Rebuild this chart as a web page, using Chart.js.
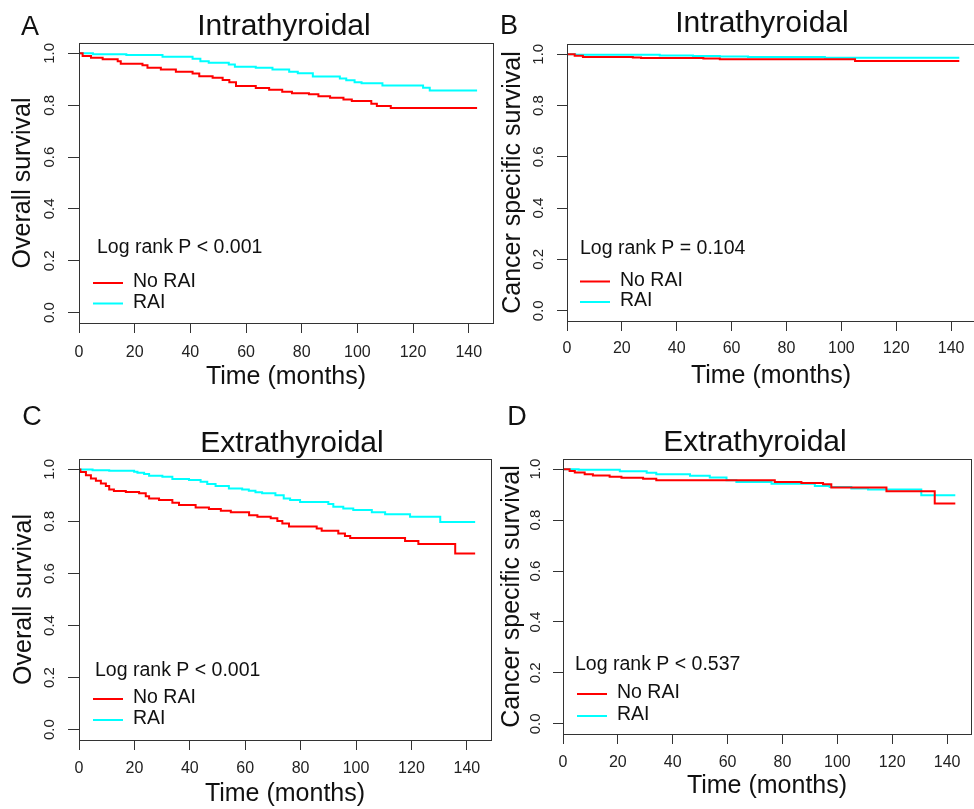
<!DOCTYPE html>
<html>
<head>
<meta charset="utf-8">
<script src="https://cdn.jsdelivr.net/npm/chart.js@4.4.1/dist/chart.umd.min.js"></script>
<style>
  html, body { margin: 0; padding: 0; background: #fff; overflow: hidden; }
  #page { position: relative; width: 974px; height: 809px; overflow: hidden; background: #fff; }
  canvas { position: absolute; }
</style>
</head>
<body>
<div id="page">
  <canvas id="panelA" width="495" height="392" style="left:0;top:0"></canvas>
  <canvas id="panelB" width="490" height="392" style="left:490px;top:0"></canvas>
  <canvas id="panelC" width="493" height="409" style="left:0;top:400px"></canvas>
  <canvas id="panelD" width="484" height="401" style="left:490px;top:400px"></canvas>
</div>
<script>
// axis ticks
const xTicks = [0, 20, 40, 60, 80, 100, 120, 140];
const yTicks = [0, 0.2, 0.4, 0.6, 0.8, 1.0];
const groups = ['No RAI', 'RAI'];

// A: intrathyroidal, overall survival
const aNoRaiTime = [0, 1.3, 4.3, 8.5, 13.9, 15, 22.8, 24.6, 29.4, 34.8, 40.8, 43.2, 48, 51.6, 54, 56.4, 63.5, 68.3, 73, 76.5, 82.6, 86, 90.2, 95, 98, 105, 107, 112, 143];
const aNoRaiSurv = [1.0, 0.99, 0.983, 0.977, 0.970, 0.960, 0.954, 0.945, 0.938, 0.929, 0.922, 0.912, 0.906, 0.897, 0.889, 0.874, 0.866, 0.860, 0.852, 0.846, 0.842, 0.835, 0.829, 0.822, 0.816, 0.806, 0.797, 0.789, 0.789];
const aRaiTime = [0, 5, 17, 30, 40.8, 43.6, 46.6, 53.8, 56, 63.5, 69.5, 75.5, 78.6, 84, 93.7, 96, 99, 101.5, 109, 123.6, 126, 143];
const aRaiSurv = [1.0, 0.997, 0.9935, 0.987, 0.9795, 0.970, 0.964, 0.9575, 0.9485, 0.945, 0.938, 0.929, 0.923, 0.911, 0.903, 0.896, 0.889, 0.885, 0.876, 0.8675, 0.857, 0.857];

// B: intrathyroidal, cancer specific survival
const bNoRaiTime = [0, 2.8, 5.8, 24, 27, 49.7, 55.7, 105, 143];
const bNoRaiSurv = [1.0, 0.994, 0.989, 0.987, 0.985, 0.983, 0.981, 0.974, 0.974];
const bRaiTime = [0, 3, 33.8, 45.9, 55.7, 66, 94, 143];
const bRaiSurv = [1.0, 0.998, 0.995, 0.993, 0.991, 0.989, 0.986, 0.986];

// C: extrathyroidal, overall survival
const cNoRaiTime = [0, 0.5, 2.5, 4.3, 6.1, 7.9, 9.7, 10.9, 12.6, 16.9, 21.7, 24.1, 25.3, 28.9, 33.7, 36.1, 42.1, 46.9, 51.2, 54.8, 61.4, 64.4, 69.2, 71.6, 73.4, 75.8, 85.8, 87.6, 93.6, 96, 97.9, 117.7, 122.5, 135.8, 143];
const cNoRaiSurv = [1.0, 0.99, 0.978, 0.965, 0.956, 0.946, 0.936, 0.923, 0.917, 0.913, 0.908, 0.897, 0.888, 0.882, 0.872, 0.863, 0.854, 0.848, 0.841, 0.835, 0.824, 0.818, 0.812, 0.802, 0.792, 0.781, 0.773, 0.764, 0.754, 0.744, 0.736, 0.725, 0.713, 0.677, 0.677];
const cRaiTime = [0, 4.9, 10.9, 19.9, 21.1, 23.5, 25.3, 30.1, 33.7, 39.7, 43.9, 46.3, 49.3, 54.1, 58.9, 61.3, 63.7, 66.1, 70.9, 73.9, 76.2, 79.8, 90, 91.8, 95.4, 99, 105.7, 110.5, 119.5, 130.4, 143];
const cRaiSurv = [1.0, 0.997, 0.995, 0.991, 0.987, 0.982, 0.976, 0.972, 0.963, 0.959, 0.953, 0.944, 0.936, 0.927, 0.923, 0.918, 0.912, 0.908, 0.901, 0.888, 0.882, 0.875, 0.867, 0.856, 0.850, 0.844, 0.835, 0.828, 0.818, 0.798, 0.798];

// D: extrathyroidal, cancer specific survival
const dNoRaiTime = [0, 2.4, 4.3, 7.9, 10.9, 17, 21.3, 29.2, 34, 77.2, 86.9, 94.8, 97.8, 117.9, 135.5, 143];
const dNoRaiSurv = [1.0, 0.993, 0.987, 0.980, 0.975, 0.970, 0.966, 0.962, 0.957, 0.950, 0.946, 0.941, 0.928, 0.913, 0.865, 0.865];
const dRaiTime = [0, 5.7, 20.7, 30.5, 34, 46.3, 53.5, 59.6, 63.2, 76, 91.8, 97.2, 105.1, 111.2, 130.6, 143];
const dRaiSurv = [1.0, 0.998, 0.992, 0.986, 0.980, 0.974, 0.967, 0.957, 0.950, 0.943, 0.934, 0.930, 0.924, 0.920, 0.898, 0.898];

const FONT = '"Liberation Sans", Arial, Helvetica, sans-serif';
Chart.defaults.font.family = FONT;
const colors = ['#ff0000', '#00ffff'];
const xMax = 143 * 1.04;

function steps(times, surv) {
    return times.map((t, i) => ({x: t, y: surv[i]}));
}

// box round the plot, panel title, letter and the legend inside the plot
const decor = {
    id: 'decor',
    afterDraw(chart, args, o) {
        const {ctx, chartArea: a} = chart;
        ctx.save();
        ctx.strokeStyle = '#333';
        ctx.lineWidth = 1;
        ctx.strokeRect(Math.round(a.left) + 0.5, Math.round(a.top) + 0.5,
            Math.round(a.right - a.left), Math.round(a.bottom - a.top));

        ctx.fillStyle = '#111';
        ctx.textAlign = 'center';
        ctx.textBaseline = 'alphabetic';
        ctx.font = '30px ' + FONT;
        ctx.fillText(o.title, (a.left + a.right) / 2 + o.titleDx, a.top + o.titleDy);

        ctx.textBaseline = 'middle';
        ctx.font = '27px ' + FONT;
        ctx.fillText(o.letter, o.letterX, o.letterY);

        ctx.textAlign = 'left';
        ctx.font = '19.5px ' + FONT;
        ctx.fillText(o.pText, a.left + o.pDx, a.bottom + o.pDy);
        chart.data.datasets.forEach((ds, i) => {
            const y = a.bottom + o.rows[i];
            ctx.strokeStyle = ds.borderColor;
            ctx.lineWidth = 2;
            ctx.beginPath();
            ctx.moveTo(a.left + o.keyDx, y);
            ctx.lineTo(a.left + o.keyDx + 30, y);
            ctx.stroke();
            ctx.fillText(ds.label, a.left + o.keyDx + 40, y - 1);
        });
        ctx.restore();
    }
};

function makePanel(id, series, yTitle, g, deco) {
    new Chart(document.getElementById(id), {
        type: 'line',
        data: {
            datasets: series.map((s, i) => ({
                label: groups[i],
                data: steps(s[0], s[1]),
                borderColor: colors[i],
                borderWidth: 2,
                pointRadius: 0,
                stepped: true,
                fill: false
            }))
        },
        options: {
            responsive: false,
            animation: false,
            layout: {padding: g.pad},
            plugins: {
                legend: {display: false},
                title: {display: false},
                tooltip: {enabled: false},
                decor: deco
            },
            scales: {
                x: {
                    type: 'linear',
                    min: 0,
                    max: xMax,
                    afterBuildTicks: s => { s.ticks = xTicks.map(v => ({value: v})); },
                    afterFit: s => { s.height = g.xH; },
                    grid: {drawOnChartArea: false, tickLength: 10, color: '#333'},
                    border: {color: '#333'},
                    ticks: {autoSkip: false, maxRotation: 0, padding: g.xPad, color: '#222', font: {size: 16}},
                    title: {display: true, text: 'Time (months)', color: '#111',
                        font: {size: 25, lineHeight: 1.2}, padding: {top: 0, bottom: g.xTitlePad}}
                },
                y: {
                    type: 'linear',
                    min: -0.04,
                    max: 1.04,
                    afterBuildTicks: s => { s.ticks = yTicks.map(v => ({value: v})); },
                    afterFit: s => { s.width = g.yW; },
                    grid: {drawOnChartArea: false, tickLength: g.yTl, color: '#333'},
                    border: {color: '#333'},
                    ticks: {autoSkip: false, minRotation: 90, maxRotation: 90, crossAlign: 'center',
                        padding: g.yPad, color: '#222', font: {size: 15},
                        callback: v => Number(v).toFixed(1)},
                    title: {display: true, text: yTitle, color: '#111',
                        font: {size: 25, lineHeight: 1.2}, padding: {top: g.yTitlePad, bottom: 0}}
                }
            }
        },
        plugins: [decor]
    });
}

makePanel('panelA', [[aNoRaiTime, aNoRaiSurv], [aRaiTime, aRaiSurv]], 'Overall survival',
    {pad: {left: 0, top: 43, right: 2, bottom: 0}, yW: 79, xH: 69, yTl: 11, xPad: 10, xTitlePad: 0, yPad: 7.5, yTitlePad: 8},
    {title: 'Intrathyroidal', titleDx: -2, titleDy: -8, letter: 'A', letterX: 30, letterY: 28,
     pText: 'Log rank P < 0.001', pDx: 18, pDy: -75, keyDx: 14, rows: [-40, -19.5]});

makePanel('panelB', [[bNoRaiTime, bNoRaiSurv], [bRaiTime, bRaiSurv]], 'Cancer specific survival',
    {pad: {left: 0, top: 44, right: 5, bottom: 0}, yW: 77, xH: 71, yTl: 10, xPad: 8.4, xTitlePad: 1, yPad: 7.8, yTitlePad: 8},
    {title: 'Intrathyroidal', titleDx: -9, titleDy: -12.3, letter: 'B', letterX: 19, letterY: 27,
     pText: 'Log rank P = 0.104', pDx: 13, pDy: -72, keyDx: 13, rows: [-39.5, -19]});

makePanel('panelC', [[cNoRaiTime, cNoRaiSurv], [cRaiTime, cRaiSurv]], 'Overall survival',
    {pad: {left: 0, top: 59, right: 2, bottom: 0}, yW: 79, xH: 69, yTl: 11, xPad: 9.4, xTitlePad: 0, yPad: 7.5, yTitlePad: 9},
    {title: 'Extrathyroidal', titleDx: 7, titleDy: -7.3, letter: 'C', letterX: 32, letterY: 18,
     pText: 'Log rank P < 0.001', pDx: 16, pDy: -69, keyDx: 14, rows: [-41, -20]});

makePanel('panelD', [[dNoRaiTime, dNoRaiSurv], [dRaiTime, dRaiSurv]], 'Cancer specific survival',
    {pad: {left: 0, top: 59, right: 3, bottom: 0}, yW: 73, xH: 67, yTl: 10, xPad: 9.4, xTitlePad: 0, yPad: 7, yTitlePad: 6.7},
    {title: 'Extrathyroidal', titleDx: -12, titleDy: -8.3, letter: 'D', letterX: 27, letterY: 18,
     pText: 'Log rank P < 0.537', pDx: 12, pDy: -69, keyDx: 14, rows: [-40, -18]});
</script>
</body>
</html>
